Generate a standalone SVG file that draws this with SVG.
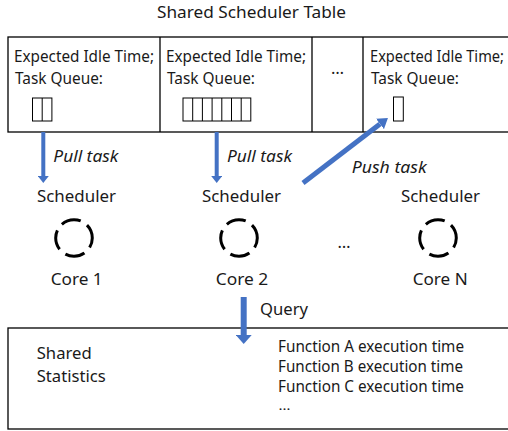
<svg xmlns="http://www.w3.org/2000/svg" width="508" height="431" viewBox="0 0 508 431">
  <style>
    text { font-family: "Noto Sans", "Open Sans", "Liberation Sans", sans-serif; fill: #1a1a1a; font-size: 16.5px; }
    .it { font-style: italic; font-size: 16px; }
    .fn { font-size: 15.5px; }
    .dots { font-size: 12px; }
    .mid { text-anchor: middle; }
    .frame { fill: none; stroke: #000; stroke-width: 1.3; }
    .slot { fill: #fff; stroke: #000; stroke-width: 1; }
    .core { fill: none; stroke: #000; stroke-width: 3; stroke-dasharray: 20 7.5; stroke-dashoffset: 10; }
    .flow { stroke: #4472C4; fill: none; }
  </style>
  <defs>
    <marker id="head-s" markerUnits="userSpaceOnUse" viewBox="0 0 7 11" markerWidth="7" markerHeight="11" refX="0" refY="5.5" orient="auto">
      <path d="M0,0 L7,5.5 L0,11 z" fill="#4472C4"/>
    </marker>
    <marker id="head-m" markerUnits="userSpaceOnUse" viewBox="0 0 10 13" markerWidth="10" markerHeight="13" refX="0" refY="6.5" orient="auto">
      <path d="M0,0 L10,6.5 L0,13 z" fill="#4472C4"/>
    </marker>
    <marker id="head-l" markerUnits="userSpaceOnUse" viewBox="0 0 9 16" markerWidth="9" markerHeight="16" refX="0" refY="8" orient="auto">
      <path d="M0,0 L9,8 L0,16 z" fill="#4472C4"/>
    </marker>
  </defs>

  <rect width="508" height="431" fill="#fff"/>

  <!-- shared scheduler table -->
  <g id="scheduler-table">
    <text x="157" y="18" textLength="189" lengthAdjust="spacingAndGlyphs">Shared Scheduler Table</text>
    <rect class="frame" x="8" y="37" width="503" height="95"/>
    <line class="frame" x1="160" y1="37" x2="160" y2="132"/>
    <line class="frame" x1="312" y1="37" x2="312" y2="132"/>
    <line class="frame" x1="363" y1="37" x2="363" y2="132"/>
  </g>

  <g id="entry-1">
    <text x="14" y="61.5" textLength="140" lengthAdjust="spacingAndGlyphs">Expected Idle Time;</text>
    <text x="15" y="84" textLength="88" lengthAdjust="spacingAndGlyphs">Task Queue:</text>
    <rect class="slot" x="32.5" y="98" width="19.4" height="23"/>
    <line class="slot" x1="42.2" y1="98" x2="42.2" y2="121"/>
  </g>

  <g id="entry-2">
    <text x="166" y="61.5" textLength="140" lengthAdjust="spacingAndGlyphs">Expected Idle Time;</text>
    <text x="167" y="84" textLength="88" lengthAdjust="spacingAndGlyphs">Task Queue:</text>
    <rect class="slot" x="183" y="98" width="67.8" height="23"/>
    <path class="slot" d="M192.7,98 V121 M202.4,98 V121 M212.1,98 V121 M221.8,98 V121 M231.5,98 V121 M241.2,98 V121"/>
  </g>

  <g id="entry-gap">
    <text class="mid" x="337.5" y="74">…</text>
  </g>

  <g id="entry-n">
    <text x="370" y="61.5" textLength="134" lengthAdjust="spacingAndGlyphs">Expected Idle Time;</text>
    <text x="371" y="84" textLength="88" lengthAdjust="spacingAndGlyphs">Task Queue:</text>
    <rect class="slot" x="393.5" y="97" width="9.8" height="24"/>
  </g>

  <!-- cores with their schedulers -->
  <g id="core-1">
    <text x="37" y="201.5" textLength="79" lengthAdjust="spacingAndGlyphs">Scheduler</text>
    <circle class="core" cx="74" cy="238" r="18.3"/>
    <text x="50.7" y="285" textLength="52" lengthAdjust="spacingAndGlyphs">Core 1</text>
  </g>

  <g id="core-2">
    <text x="202" y="201.5" textLength="79" lengthAdjust="spacingAndGlyphs">Scheduler</text>
    <circle class="core" cx="239" cy="238" r="18.3"/>
    <text x="215.7" y="285" textLength="52.5" lengthAdjust="spacingAndGlyphs">Core 2</text>
  </g>

  <g id="core-gap">
    <text class="mid" x="344" y="248">…</text>
  </g>

  <g id="core-n">
    <text x="401" y="201.5" textLength="79" lengthAdjust="spacingAndGlyphs">Scheduler</text>
    <circle class="core" cx="438" cy="238" r="18.3"/>
    <text x="412.7" y="285" textLength="55" lengthAdjust="spacingAndGlyphs">Core N</text>
  </g>

  <!-- shared statistics store -->
  <g id="statistics">
    <rect class="frame" x="8" y="328" width="503" height="101"/>
    <text x="36.7" y="359" textLength="55" lengthAdjust="spacingAndGlyphs">Shared</text>
    <text x="36.7" y="382" textLength="69" lengthAdjust="spacingAndGlyphs">Statistics</text>
    <text class="fn" x="278" y="352" textLength="186" lengthAdjust="spacingAndGlyphs">Function A execution time</text>
    <text class="fn" x="278" y="372" textLength="185" lengthAdjust="spacingAndGlyphs">Function B execution time</text>
    <text class="fn" x="278" y="392" textLength="186" lengthAdjust="spacingAndGlyphs">Function C execution time</text>
    <text class="dots" x="278.5" y="410" textLength="12" lengthAdjust="spacingAndGlyphs">…</text>
  </g>

  <!-- connectors -->
  <g id="connectors">
    <line class="flow" x1="43.3" y1="132" x2="43.3" y2="176" stroke-width="4" marker-end="url(#head-s)"/>
    <text class="it" x="53.3" y="162" textLength="65" lengthAdjust="spacingAndGlyphs">Pull task</text>

    <line class="flow" x1="216.7" y1="132" x2="216.7" y2="176" stroke-width="4" marker-end="url(#head-s)"/>
    <text class="it" x="227" y="162" textLength="65" lengthAdjust="spacingAndGlyphs">Pull task</text>

    <line class="flow" x1="303" y1="183" x2="380" y2="124" stroke-width="5" marker-end="url(#head-m)"/>
    <text class="it" x="351.7" y="173" textLength="75" lengthAdjust="spacingAndGlyphs">Push task</text>

    <line class="flow" x1="243.7" y1="297" x2="243.7" y2="335" stroke-width="6" marker-end="url(#head-l)"/>
    <text x="260" y="315" textLength="48" lengthAdjust="spacingAndGlyphs">Query</text>
  </g>
</svg>
